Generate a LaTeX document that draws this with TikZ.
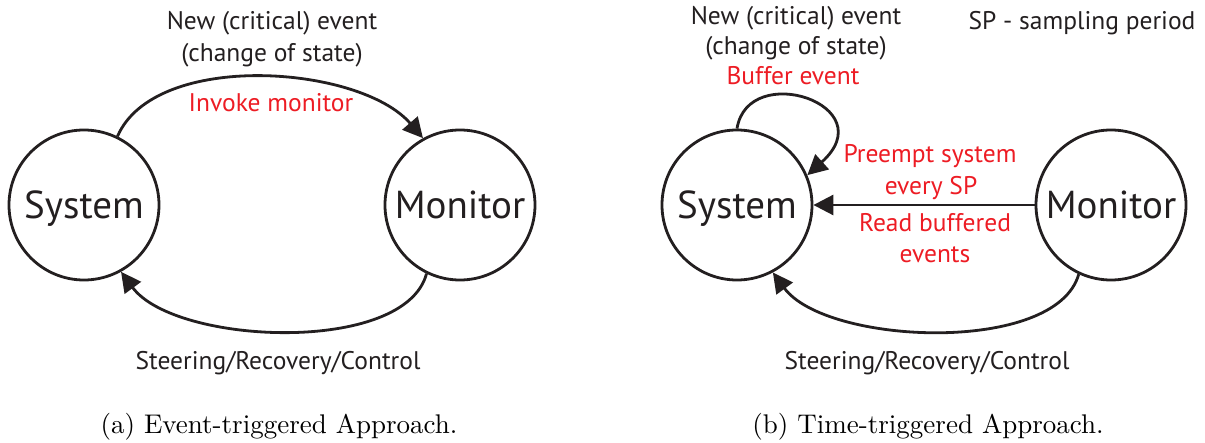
\documentclass[tikz,border=0pt]{standalone}
\usepackage{fontspec}
\newfontfamily\labelfont{PT Sans}
\newfontfamily\capfont{lmroman10-regular.otf}
\usetikzlibrary{arrows.meta}
\definecolor{ink}{RGB}{35,31,32}
\definecolor{hot}{RGB}{237,28,36}

\begin{document}
\begin{tikzpicture}[x=1pt,y=-1pt,
  state/.style={circle, draw=ink, line width=2.8pt, minimum size=150pt,
    inner sep=0pt, text=ink, font=\labelfont\fontsize{39}{39}\selectfont,
    text height=27pt, text depth=0pt},
  arr/.style={draw=ink, line width=2.8pt, -{Triangle[length=20pt,width=20pt]}},
  lbl/.style={font=\labelfont\fontsize{25.5}{31}\selectfont, text=ink,
    anchor=base, inner sep=0pt},
  hotlbl/.style={lbl, text=hot},
  captext/.style={font=\capfont\fontsize{27}{32}\selectfont, anchor=base, inner sep=0pt}]

\useasboundingbox (0,0) rectangle (1205,443);

% (a) event-triggered
\node[state] (sysA) at (84,205) {System};
\node[state] (monA) at (460,205) {Monitor};
\draw[arr] (sysA.64) .. controls (155,50) and (360,65) .. (monA.119);
\draw[arr] (monA.-116) .. controls (405,355) and (175,345) .. (sysA.-61);

\node[lbl] (evA1) at (272,30) {New (critical) event};
\node[lbl] (evA2) at (272,62) {(change of state)};
\node[hotlbl] (invA) at (271,112) {Invoke monitor};
\node[lbl] (steerA) at (278,370) {Steering/Recovery/Control};
\node[captext] (capA) at (279,433) {(a) Event-triggered Approach.};

% (b) time-triggered
\node[state] (sysB) at (737,205) {System};
\node[state] (monB) at (1111,205) {Monitor};
\draw[arr] (sysB.90) .. controls (748,60) and (885,105) .. (sysB.23);
\draw[arr] (monB) -- (sysB);
\draw[arr] (monB.-115) .. controls (1056,355) and (826,345) .. (sysB.-62);

\node[lbl] (evB1) at (796,25) {New (critical) event};
\node[lbl] (evB2) at (796,55) {(change of state)};
\node[hotlbl] (bufB) at (793,85) {Buffer event};
\node[lbl] (spB) at (1082,30) {SP - sampling period};
\node[hotlbl] (preB1) at (930,163) {Preempt system};
\node[hotlbl] (preB2) at (931,195) {every SP};
\node[hotlbl] (readB1) at (935,232) {Read buffered};
\node[hotlbl] (readB2) at (935,263) {events};
\node[lbl] (steerB) at (927,370) {Steering/Recovery/Control};
\node[captext] (capB) at (928,433) {(b) Time-triggered Approach.};
\end{tikzpicture}
\end{document}
